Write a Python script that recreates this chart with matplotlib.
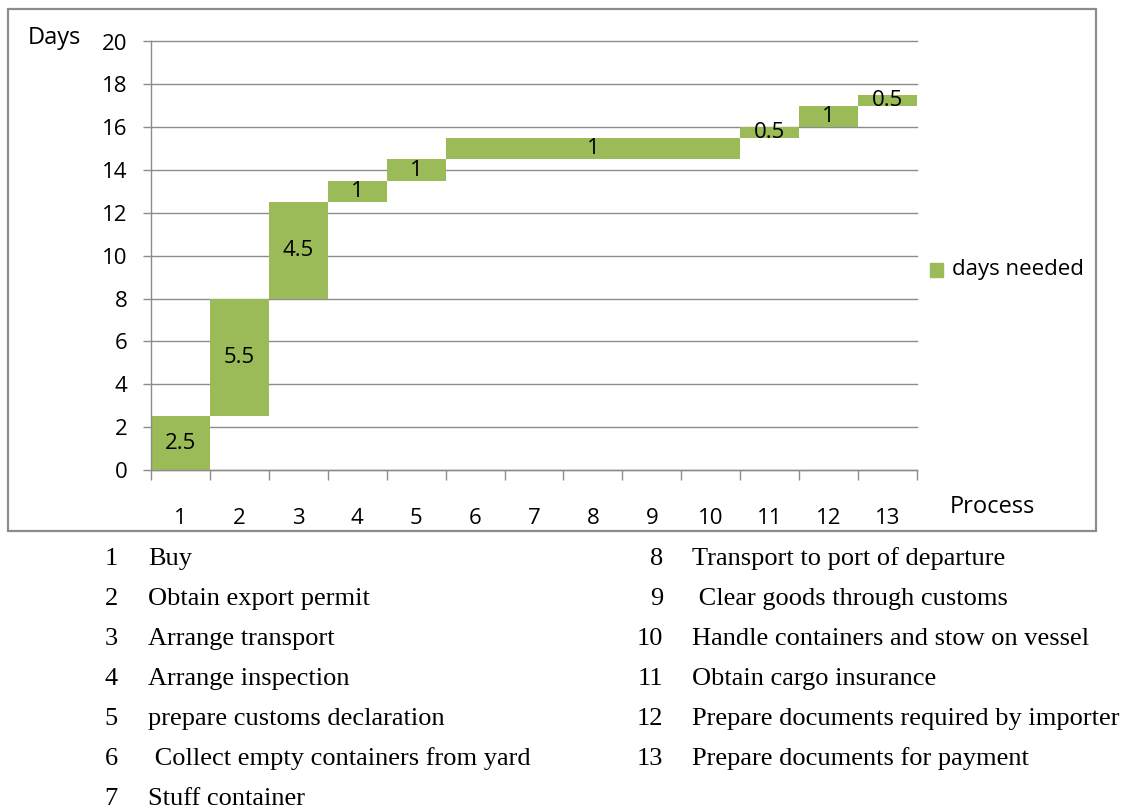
import matplotlib.pyplot as plt
from matplotlib.patches import Rectangle

# waterfall of days needed per export process step
process = list(range(1, 14))
bottoms = [0, 2.5, 8, 12.5, 13.5, 14.5, 14.5, 14.5, 14.5, 14.5, 15.5, 16, 17]
heights = [2.5, 5.5, 4.5, 1, 1, 1, 1, 1, 1, 1, 0.5, 1, 0.5]
bar_labels = ["2.5", "5.5", "4.5", "1", "1", "", "", "1", "", "", "0.5", "1", "0.5"]

steps_left = ["Buy", "Obtain export permit", "Arrange transport", "Arrange inspection",
              "prepare customs declaration", " Collect empty containers from yard",
              "Stuff container"]
steps_right = ["Transport to port of departure", " Clear goods through customs",
               "Handle containers and stow on vessel", "Obtain cargo insurance",
               "Prepare documents required by importer", "Prepare documents for payment"]

green = "#9BBB59"
grey = "#8c8c8c"
sans = "Open Sans"
serif = "Liberation Serif"
fs = 16

fig = plt.figure(figsize=(11.24, 8.09), dpi=100)
W, H = 1124, 809

# outer chart frame
fig.patches.append(Rectangle((8 / W, 1 - 531 / H), (1096 - 8) / W, (531 - 9) / H,
                             transform=fig.transFigure, fill=False,
                             edgecolor=grey, linewidth=1.6))

ax = fig.add_axes([151 / W, 1 - 470 / H, (917 - 151) / W, (470 - 41.5) / H])
ax.bar(process, heights, bottom=bottoms, width=1.0, color=green,
       edgecolor="none", label="days needed", zorder=2)
for x, b, h, t in zip(process, bottoms, heights, bar_labels):
    if t:
        ax.text(x, b + h / 2, t, ha="center", va="center", fontsize=fs,
                family=sans, zorder=3)

ax.set_xlim(0.5, 13.5)
ax.set_ylim(0, 20)
ax.set_yticks(range(0, 21, 2))
ax.set_xticks([i + 0.5 for i in range(0, 14)])
ax.set_xticklabels([])
ax.set_xticks(process, minor=True)
ax.set_xticklabels([str(p) for p in process], minor=True)
ax.tick_params(axis="x", which="major", length=7.5, width=1, color=grey, direction="out")
ax.tick_params(axis="x", which="minor", length=0, pad=27, labelsize=fs)
ax.tick_params(axis="y", length=6, width=1, color=grey, pad=11, labelsize=fs)
for lab in ax.get_xticklabels(minor=True) + ax.get_yticklabels():
    lab.set_family(sans)
ax.yaxis.grid(True, color=grey, linewidth=1, zorder=0)
for gl in ax.get_ygridlines():
    gl.set_clip_on(False)
ax.set_axisbelow(True)
for s in ["top", "right"]:
    ax.spines[s].set_visible(False)
for s in ["left", "bottom"]:
    ax.spines[s].set_color(grey)
    ax.spines[s].set_linewidth(1)

fig.text(28 / W, 1 - 38 / H, "Days", ha="left", va="center", fontsize=17, family=sans)
fig.text(950 / W, 1 - 507 / H, "Process", ha="left", va="center", fontsize=17, family=sans)

# legend
fig.patches.append(Rectangle((930 / W, 1 - 277 / H), 13 / W, 14 / H,
                             transform=fig.transFigure, color=green))
fig.text(952 / W, 1 - 270 / H, "days needed", ha="left", va="center", fontsize=fs, family=sans)

# process key below the chart
for i, name in enumerate(steps_left):
    y = 1 - (565 + 40 * i) / H
    fig.text(118 / W, y, str(i + 1), ha="right", va="baseline", fontsize=19, family=serif)
    fig.text(148 / W, y, name, ha="left", va="baseline", fontsize=19, family=serif)
for i, name in enumerate(steps_right):
    y = 1 - (565 + 40 * i) / H
    fig.text(663 / W, y, str(i + 8), ha="right", va="baseline", fontsize=19, family=serif)
    fig.text(692 / W, y, name, ha="left", va="baseline", fontsize=19, family=serif)

fig.savefig("out.png", dpi=100)
